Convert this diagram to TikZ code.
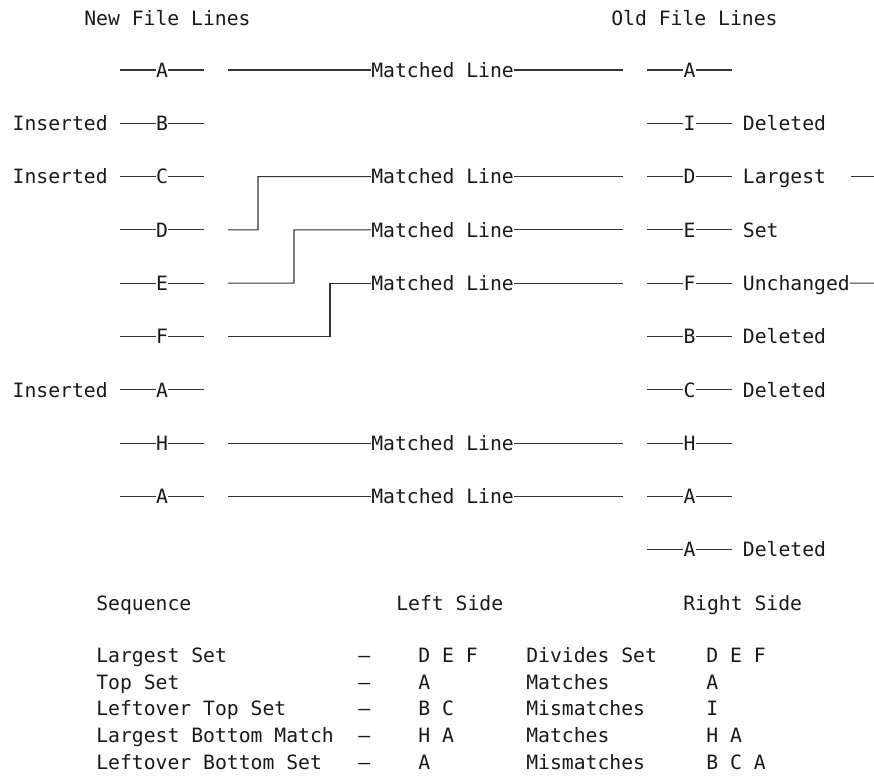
\documentclass[tikz,border=0pt]{standalone}
\usepackage{fontspec}
\setmonofont{DejaVu Sans Mono}
\usepackage{tikz}
\usetikzlibrary{positioning}

\tikzset{
  txt/.style={inner sep=0pt, text height=10.8pt, text depth=0pt, anchor=west,
              text=black!90, font=\ttfamily\fontsize{14.8}{18}\selectfont},
  letter/.style={txt, anchor=center},
  wire/.style={line width=0.8pt, draw=black!80},
}

\begin{document}
\begin{tikzpicture}[x=0.75pt, y=-0.75pt]
  \useasboundingbox (0,0) rectangle (874,775);

  % Headings
  \node[txt] (newhd) at (84,18) {New File Lines};
  \node[txt] (oldhd) at (611,18) {Old File Lines};

  % New file lines
  \foreach \ch [count=\i] in {A,B,C,D,E,F,A,H,A} {
    \pgfmathsetmacro\y{70+53.3*(\i-1)}
    \coordinate (lw\i) at (120,\y);
    \coordinate (le\i) at (204,\y);
    \node[letter] (l\i) at (162,\y) {\ch};
    \draw[wire] (lw\i) -- (l\i);
    \draw[wire] (l\i) -- (le\i);
  }

  % Old file lines
  \foreach \ch [count=\i] in {A,I,D,E,F,B,C,H,A,A} {
    \pgfmathsetmacro\y{70+53.3*(\i-1)}
    \coordinate (rw\i) at (647,\y);
    \coordinate (re\i) at (732,\y);
    \node[letter] (r\i) at (689.5,\y) {\ch};
    \draw[wire] (rw\i) -- (r\i);
    \draw[wire] (r\i) -- (re\i);
  }

  % Side notes
  \node[txt, anchor=east, left=9pt of lw2] (ins2) {Inserted};
  \node[txt, anchor=east, left=9pt of lw3] (ins3) {Inserted};
  \node[txt, anchor=east, left=9pt of lw7] (ins7) {Inserted};
  \node[txt, right=8pt of re2] (del2) {Deleted};
  \node[txt, right=8pt of re3] (lgst) {Largest};
  \node[txt, right=8pt of re4] (sset) {Set};
  \node[txt, right=8pt of re5] (unch) {Unchanged};
  \node[txt, right=8pt of re6] (del6) {Deleted};
  \node[txt, right=8pt of re7] (del7) {Deleted};
  \node[txt, right=8pt of re10] (del10) {Deleted};
  \coordinate (lgs) at (851,176.6);
  \coordinate (lge) at (874,176.6);
  \coordinate (uce) at (874,283.2);
  \draw[wire] (lgs) -- (lge);
  \draw[wire] (unch) -- (uce);

  % Matched lines
  \foreach \r in {1,3,4,5,8,9} {
    \pgfmathsetmacro\y{70+53.3*(\r-1)}
    \node[txt] (ml\r) at (371,\y) {Matched Line};
    \coordinate (me\r) at (623,\y);
    \draw[wire] (ml\r) -- (me\r);
  }
  \foreach \r in {1,4,5,6,8,9} {
    \pgfmathsetmacro\y{70+53.3*(\r-1)}
    \coordinate (ms\r) at (228,\y);
  }
  \coordinate (k4) at (258,229.9);
  \coordinate (k5) at (294,283.2);
  \coordinate (k6) at (330,336.5);
  \draw[wire] (ms1) -- (ml1);
  \draw[wire] (ms4) -- (k4) |- (ml3);
  \draw[wire] (ms5) -- (k5) |- (ml4);
  \draw[wire] (ms6) -- (k6) |- (ml5);
  \draw[wire] (ms8) -- (ml8);
  \draw[wire] (ms9) -- (ml9);

  % Table
  \node[txt] (seqhd) at (96,603) {Sequence};
  \node[txt] (lefthd) at (396,603) {Left Side};
  \node[txt] (righthd) at (683,603) {Right Side};
  \foreach \seq/\ls/\act/\rs [count=\i] in {
      Largest Set/D E F/Divides Set/D E F,
      Top Set/A/Matches/A,
      Leftover Top Set/B C/Mismatches/I,
      Largest Bottom Match/H A/Matches/H A,
      Leftover Bottom Set/A/Mismatches/B C A} {
    \pgfmathsetmacro\y{655+26.8*(\i-1)}
    \node[txt] (sq\i) at (96,\y) {\seq};
    \node[txt] (dh\i) at (358,\y) {—};
    \node[txt] (ls\i) at (418,\y) {\ls};
    \node[txt] (ac\i) at (526,\y) {\act};
    \node[txt] (rs\i) at (706,\y) {\rs};
  }
\end{tikzpicture}
\end{document}
